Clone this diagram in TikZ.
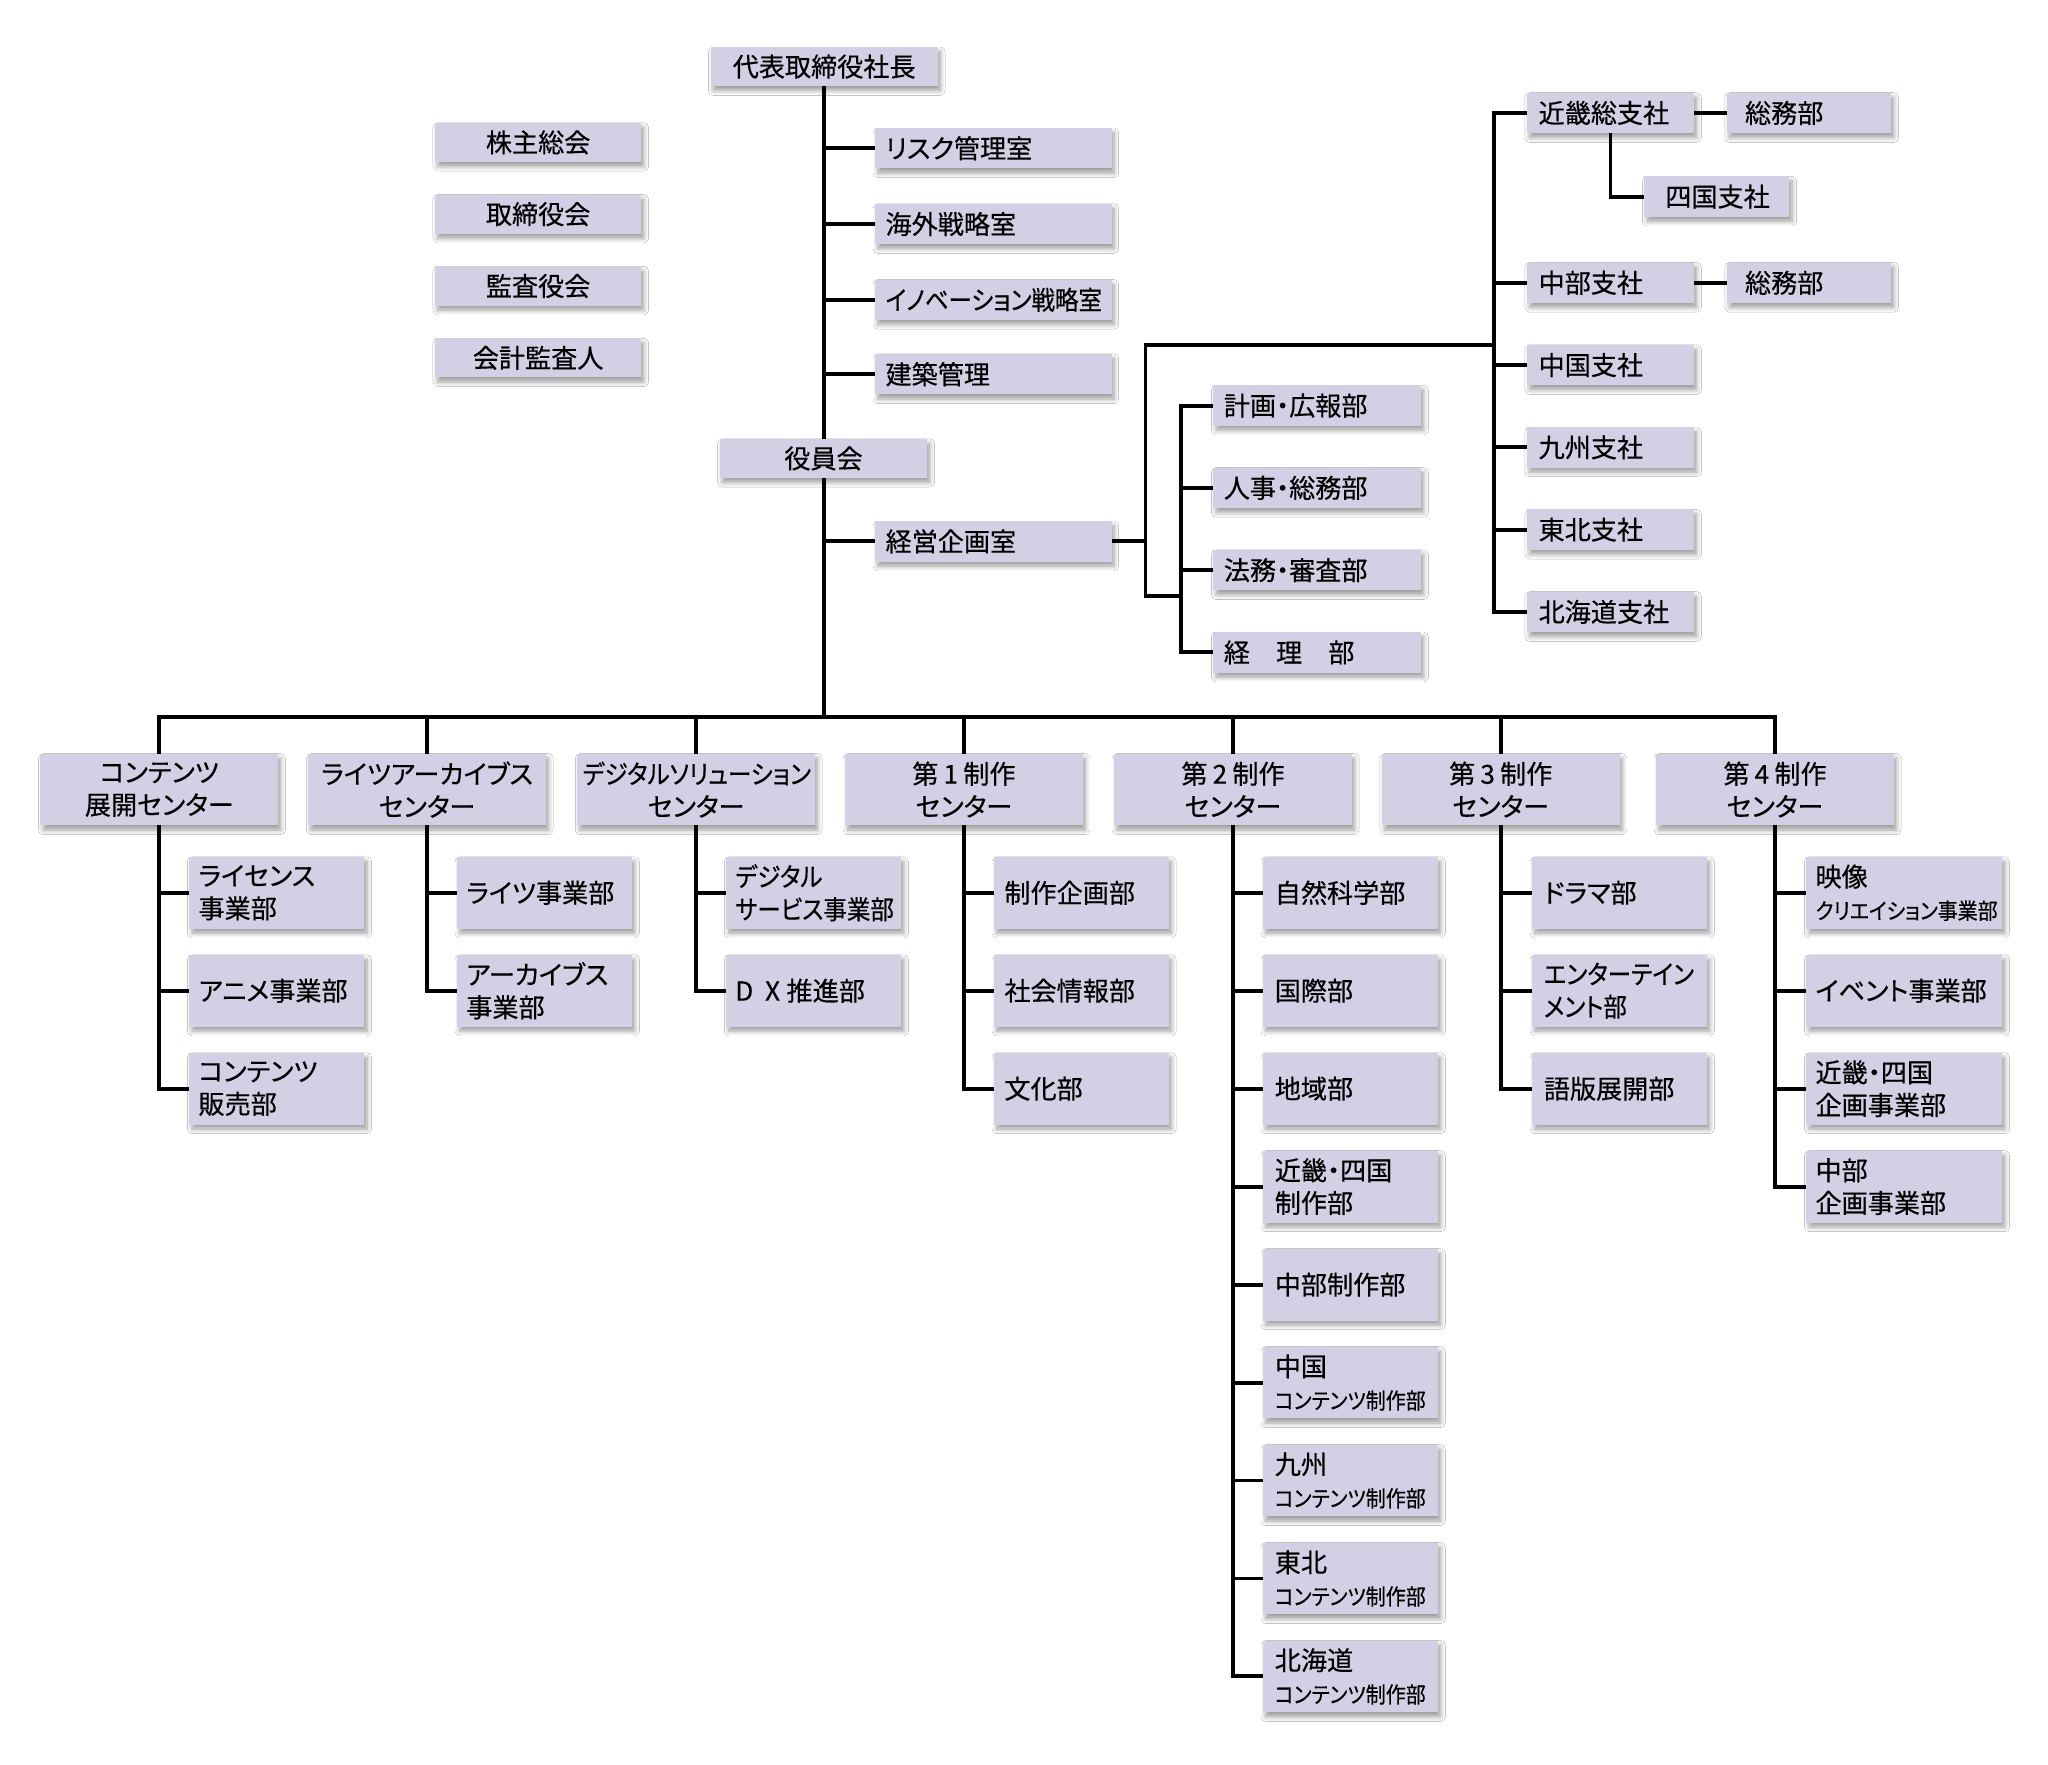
\documentclass[tikz,border=0pt]{standalone}
\usepackage{fontspec}
\setmainfont{Noto Sans CJK JP}[RawFeature=+palt,FakeBold=0.4]
\newfontfamily\nf{Noto Sans CJK JP}[RawFeature=+palt,FakeStretch=0.9,FakeBold=0.4]
\usetikzlibrary{backgrounds,shadows.blur}
\definecolor{boxfill}{RGB}{210,208,228}
\tikzset{
  box/.style={fill=boxfill, inner ysep=0pt, anchor=north west, outer sep=0pt,
    font=\fontsize{20}{25}\selectfont,
    blur shadow={shadow xshift=2pt, shadow yshift=-3.5pt, shadow blur radius=3.5pt, shadow blur steps=8, shadow opacity=38}},
  conn/.style={line width=3pt, line join=miter, draw=black},
}
\newcommand\bx[8][]{%
  \pgfmathsetmacro\tw{#5-2*#7}%
  \node[box, inner xsep=#7pt, text width=\tw pt, minimum height=#6pt, align=left, #1] (#2) at (#3,#4) {#8};}
\newcommand\smallline[1]{{\nf\fontsize{17}{25}\selectfont #1}}
\begin{document}
\begin{tikzpicture}[x=1pt,y=-1pt]
\useasboundingbox (0,0) rectangle (1568,1351);
% top
\bx[align=center]{ceo}{544}{36}{174}{30}{4}{代表取締役社長}
\bx[align=center]{kabu}{333}{94}{158}{30}{4}{株主総会}
\bx[align=center]{tori}{333}{149}{158}{30}{4}{取締役会}
\bx[align=center]{kansa}{333}{204}{158}{30}{4}{監査役会}
\bx[align=center]{kaikei}{333}{259}{158}{30}{4}{会計監査人}
% staff
\bx{risk}{670}{98}{181}{31}{8}{リスク管理室}
\bx{kaigai}{670}{156}{181}{31}{8}{海外戦略室}
\bx{inno}{670}{214}{181}{31}{8}{{\nf イノベーション戦略室}}
\bx{kenchiku}{670}{271}{181}{31}{8}{建築管理}
\bx[align=center]{yakuin}{551}{336}{159}{30}{4}{役員会}
\bx{keiei}{670}{399}{181}{31}{8}{経営企画室}
% departments
\bx{keikaku}{929}{295}{159}{31}{8}{計画・広報部}
\bx{jinji}{929}{358}{159}{31}{8}{人事・総務部}
\bx{homu}{929}{421}{159}{31}{8}{法務・審査部}
\bx{keiri}{929}{484}{159}{31}{8}{経\hspace{20pt}理\hspace{20pt}部}
% branches
\bx{kinki}{1169}{71}{128}{31}{9}{近畿総支社}
\bx{chubu}{1169}{201}{128}{31}{9}{中部支社}
\bx{chugoku}{1169}{264}{128}{31}{9}{中国支社}
\bx{kyushu}{1169}{327}{128}{31}{9}{九州支社}
\bx{tohoku}{1169}{390}{128}{31}{9}{東北支社}
\bx{hokkaido}{1169}{453}{128}{31}{9}{北海道支社}
\bx{somuA}{1322}{71}{126}{31}{14}{総務部}
\bx{somuB}{1322}{201}{126}{31}{14}{総務部}
\bx{shikoku}{1259}{135}{111}{31}{16}{四国支社}
% centers
\bx[align=center]{cA}{31}{577}{182}{55}{4}{コンテンツ\\展開センター}
\bx[align=center]{cB}{236}{577}{182}{55}{4}{ライツアーカイブス\\センター}
\bx[align=center]{cC}{442}{577}{182}{55}{4}{{\nf デジタルソリューション}\\センター}
\bx[align=center]{cD}{647}{577}{182}{55}{4}{第\hspace{4pt}1\hspace{4pt}制作\\センター}
\bx[align=center]{cE}{853}{577}{182}{55}{4}{第\hspace{4pt}2\hspace{4pt}制作\\センター}
\bx[align=center]{cF}{1058}{577}{182}{55}{4}{第\hspace{4pt}3\hspace{4pt}制作\\センター}
\bx[align=center]{cG}{1268}{577}{182}{55}{4}{第\hspace{4pt}4\hspace{4pt}制作\\センター}
% column A
\bx{aA}{145}{656}{134}{55}{7}{ライセンス\\事業部}
\bx{aB}{145}{731}{134}{55}{7}{アニメ事業部}
\bx{aC}{145}{806}{134}{55}{7}{コンテンツ\\販売部}
% column B
\bx{bA}{350}{656}{134}{55}{7}{ライツ事業部}
\bx{bB}{350}{731}{134}{55}{7}{アーカイブス\\事業部}
% column C
\bx{dA}{556}{656}{134}{55}{7}{\nf デジタル\\サービス事業部}
\bx{dB}{556}{731}{134}{55}{7}{D\hspace{9pt}X\hspace{5pt}推進部}
% column D
\bx{eA}{761}{656}{134}{55}{8}{制作企画部}
\bx{eB}{761}{731}{134}{55}{8}{社会情報部}
\bx{eC}{761}{806}{134}{55}{8}{文化部}
% column E
\bx{fA}{967}{656}{134}{55}{9}{自然科学部}
\bx{fB}{967}{731}{134}{55}{9}{国際部}
\bx{fC}{967}{806}{134}{55}{9}{地域部}
\bx{fD}{967}{881}{134}{55}{9}{近畿・四国\\制作部}
\bx{fE}{967}{956}{134}{55}{9}{中部制作部}
\bx{fF}{967}{1031}{134}{55}{9}{中国\\\smallline{コンテンツ制作部}}
\bx{fG}{967}{1106}{134}{55}{9}{九州\\\smallline{コンテンツ制作部}}
\bx{fH}{967}{1181}{134}{55}{9}{東北\\\smallline{コンテンツ制作部}}
\bx{fI}{967}{1256}{134}{55}{9}{北海道\\\smallline{コンテンツ制作部}}
% column F
\bx{gA}{1173}{656}{134}{55}{9}{ドラマ部}
\bx{gB}{1173}{731}{134}{55}{9}{\nf エンターテイン\\メント部}
\bx{gC}{1173}{806}{134}{55}{9}{語版展開部}
% column G
\bx{hA}{1383}{656}{150}{55}{7}{映像\\\smallline{クリエイション事業部}}
\bx{hB}{1383}{731}{150}{55}{7}{イベント事業部}
\bx{hC}{1383}{806}{150}{55}{7}{近畿・四国\\企画事業部}
\bx{hD}{1383}{881}{150}{55}{7}{中部\\企画事業部}
% coordinates
\coordinate (bus) at (629,549);
\coordinate (kt) at (877,264);
\coordinate (kb) at (877,456);
\coordinate (bx) at (1144,0);
\coordinate (dx) at (904,0);
\begin{scope}[on background layer]
\fill[white] (0,0) rectangle (1568,1351);
% main spine
\draw[conn] (ceo.south) -- (ceo.south |- bus);
\foreach \n in {risk,kaigai,inno,kenchiku,keiei}
  \draw[conn] (ceo.south |- \n.west) -- (\n.west);
% keiei bracket
\draw[conn] (keiei.east) -- (keiei.east -| kt);
\draw[conn] (kt -| bx) -- (kt) -- (kb) -- (kb -| dx);
% departments
\draw[conn] (keikaku.west) -- (dx |- keikaku.west) -- (dx |- keiri.west) -- (keiri.west);
\foreach \n in {jinji,homu}
  \draw[conn] (dx |- \n.west) -- (\n.west);
% branches
\draw[conn] (kinki.west) -- (bx |- kinki.west) -- (bx |- hokkaido.west) -- (hokkaido.west);
\foreach \n in {chubu,chugoku,kyushu,tohoku}
  \draw[conn] (bx |- \n.west) -- (\n.west);
\draw[conn] (kinki.east) -- (somuA.west);
\draw[conn] (chubu.east) -- (somuB.west);
\draw[conn] (kinki.south) -- (kinki.south |- shikoku.west) -- (shikoku.west);
% bus
\draw[conn] (cA.north) -- (cA.north |- bus) -- (cG.north |- bus) -- (cG.north);
\foreach \n in {cB,cC,cD,cE,cF}
  \draw[conn] (\n.north |- bus) -- (\n.north);
% columns
\draw[conn] (cA.south) -- (cA.south |- aC.west) -- (aC.west);
\foreach \n in {aA,aB} \draw[conn] (cA.south |- \n.west) -- (\n.west);
\draw[conn] (cB.south) -- (cB.south |- bB.west) -- (bB.west);
\draw[conn] (cB.south |- bA.west) -- (bA.west);
\draw[conn] (cC.south) -- (cC.south |- dB.west) -- (dB.west);
\draw[conn] (cC.south |- dA.west) -- (dA.west);
\draw[conn] (cD.south) -- (cD.south |- eC.west) -- (eC.west);
\foreach \n in {eA,eB} \draw[conn] (cD.south |- \n.west) -- (\n.west);
\draw[conn] (cE.south) -- (cE.south |- fI.west) -- (fI.west);
\foreach \n in {fA,fB,fC,fD,fE,fF,fG,fH} \draw[conn] (cE.south |- \n.west) -- (\n.west);
\draw[conn] (cF.south) -- (cF.south |- gC.west) -- (gC.west);
\foreach \n in {gA,gB} \draw[conn] (cF.south |- \n.west) -- (\n.west);
\draw[conn] (cG.south) -- (cG.south |- hD.west) -- (hD.west);
\foreach \n in {hA,hB,hC} \draw[conn] (cG.south |- \n.west) -- (\n.west);
\end{scope}
\end{tikzpicture}
\end{document}
